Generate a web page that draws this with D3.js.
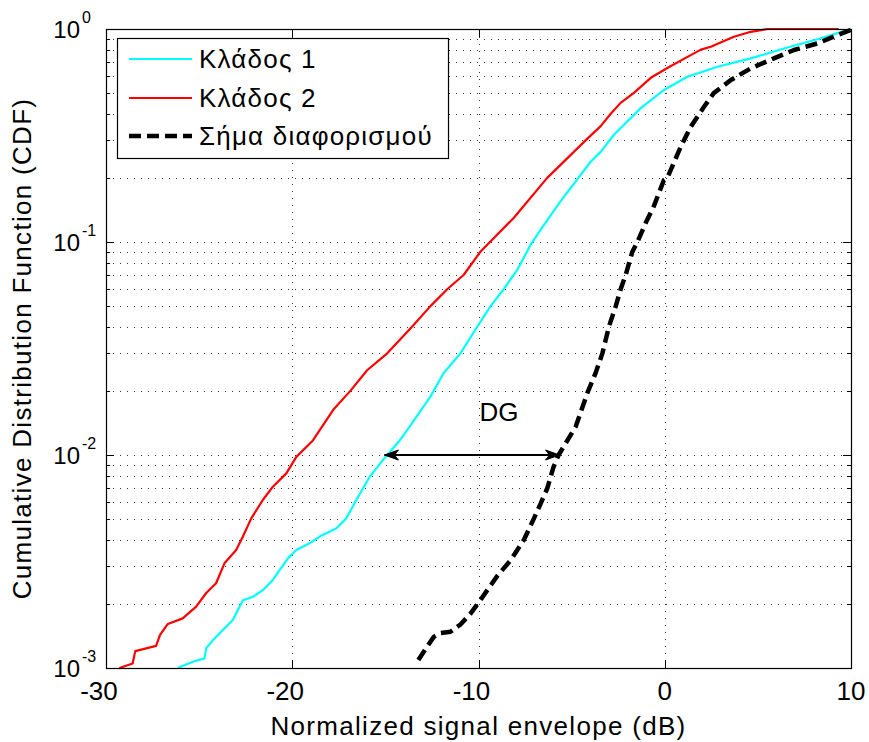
<!DOCTYPE html>
<html>
<head>
<meta charset="utf-8">
<script src="https://cdn.jsdelivr.net/npm/d3@7"></script>
<style>
  body { margin: 0; background: #fff; }
  text { font-family: "Liberation Sans", Arial, sans-serif; fill: #000; }
</style>
</head>
<body>
<div id="container"></div>
<script>
// Κλάδος 1 (cyan)
const branch1X = [-26.15, -25.34, -24.71, -24.62, -24.26, -23.82, -23.19, -22.65, -22.11, -21.58, -21.04, -20.68, -20.23, -19.78, -19.07, -18.53, -17.63, -17.1, -16.56, -15.84, -15.12, -14.23, -13.83, -12.58, -11.88, -10.97, -10.07, -9.35, -8.65, -7.92, -7.2, -6.67, -5.6, -3.98, -3.44, -2.74, -2.37, -1.29, 0, 1.22, 2.83, 4.62, 6.4, 8.2, 10];
const branch1Y = [0.001, 0.00107, 0.00111, 0.00124, 0.00135, 0.00148, 0.00168, 0.00208, 0.00216, 0.00232, 0.00259, 0.00288, 0.00327, 0.00358, 0.00385, 0.00414, 0.00453, 0.00504, 0.00615, 0.0079, 0.0095, 0.0117, 0.0131, 0.0188, 0.0242, 0.03, 0.04, 0.05, 0.06, 0.074, 0.097, 0.114, 0.155, 0.238, 0.265, 0.318, 0.343, 0.425, 0.52, 0.597, 0.665, 0.728, 0.81, 0.895, 1.0];

// Κλάδος 2 (red)
const branch2X = [-29.28, -28.57, -28.43, -27.31, -27.1, -26.68, -25.88, -25.16, -24.62, -24.09, -23.64, -23.01, -22.65, -22.2, -21.58, -21.04, -20.32, -19.78, -18.89, -17.8, -16.88, -15.98, -14.9, -13.57, -12.58, -11.68, -10.8, -9.9, -9.53, -8.1, -6.31, -4.25, -3.44, -2.9, -2.37, -1.67, -0.75, 0.14, 1.22, 1.94, 2.47, 3.71, 4.62, 5.52, 9.35];
const branch2Y = [0.001, 0.00105, 0.0012, 0.00127, 0.00143, 0.00161, 0.00171, 0.00194, 0.00225, 0.0025, 0.0031, 0.00358, 0.00414, 0.00504, 0.00615, 0.0071, 0.0082, 0.0098, 0.0117, 0.0163, 0.02, 0.025, 0.03, 0.04, 0.05, 0.06, 0.07, 0.09, 0.097, 0.13, 0.2, 0.3, 0.35, 0.4, 0.45, 0.5, 0.59, 0.656, 0.74, 0.8, 0.826, 0.92, 0.97, 1.0, 1.0];

// Σήμα διαφορισμού (black dashed)
const combinedX = [-13.23, -12.76, -12.4, -12.04, -11.5, -10.97, -10.43, -9.89, -9.0, -8.28, -7.56, -7.04, -6.67, -6.3, -5.97, -5.7, -5.23, -4.78, -4.16, -3.71, -3.35, -3.0, -2.63, -2.37, -2.1, -1.74, -1.47, -1.02, -0.59, -0.05, 0.14, 0.86, 1.4, 2.1, 2.63, 3.55, 4.62, 5.86, 6.94, 8.2, 9.28, 10];
const combinedY = [0.00109, 0.00126, 0.0014, 0.00146, 0.00148, 0.0016, 0.0018, 0.00209, 0.0027, 0.0032, 0.004, 0.005, 0.0059, 0.007, 0.0088, 0.01, 0.0117, 0.0136, 0.0195, 0.0243, 0.03, 0.04, 0.05, 0.06, 0.07, 0.09, 0.1, 0.123, 0.147, 0.195, 0.2, 0.28, 0.348, 0.43, 0.5, 0.576, 0.654, 0.728, 0.797, 0.856, 0.937, 0.99];

const seriesNames = ['Κλάδος 1', 'Κλάδος 2', 'Σήμα διαφορισμού'];
const xTicks = [-30, -20, -10, 0, 10];
const yDecades = [-3, -2, -1, 0];
const dgArrowX = [-15.05, -5.65];
const dgArrowY = 0.01;
const dgLabel = { text: 'DG', x: -8.9, y: 0.0145 };

const width = 869, height = 742;
const margin = { left: 106, right: 18, top: 29, bottom: 74 };

const svg = d3.select('#container').append('svg')
    .attr('width', width)
    .attr('height', height);

svg.append('rect').attr('width', width).attr('height', height).attr('fill', '#fff');

const x = d3.scaleLinear().domain([-30, 10]).range([margin.left, width - margin.right]);
const y = d3.scaleLog().domain([1e-3, 1]).range([height - margin.bottom, margin.top]);

const x0 = x.range()[0], x1 = x.range()[1];
const y0 = y.range()[0], y1 = y.range()[1];

// grid
const yGrid = [];
yDecades.slice(0, -1).forEach(d => {
    for (let k = 1; k <= 9; k++) yGrid.push(k * Math.pow(10, d));
});
const yMinor = yGrid.filter(v => !yDecades.some(d => Math.abs(v - Math.pow(10, d)) < 1e-12));

const grid = svg.append('g').attr('stroke', '#000').attr('stroke-width', 1)
    .attr('stroke-dasharray', '1,6').attr('opacity', 0.8);
grid.selectAll('.hg').data(yGrid.filter(v => v > 1e-3)).enter().append('line')
    .attr('x1', x0).attr('x2', x1)
    .attr('y1', d => Math.round(y(d)) + 0.5).attr('y2', d => Math.round(y(d)) + 0.5);
grid.selectAll('.vg').data(xTicks.slice(1, -1)).enter().append('line')
    .attr('y1', y0).attr('y2', y1)
    .attr('x1', d => Math.round(x(d)) + 0.5).attr('x2', d => Math.round(x(d)) + 0.5);

// ticks
const ticks = svg.append('g').attr('stroke', '#000').attr('stroke-width', 1);
xTicks.forEach(t => {
    const px = Math.round(x(t)) + 0.5;
    ticks.append('line').attr('x1', px).attr('x2', px).attr('y1', y0).attr('y2', y0 - 8);
    ticks.append('line').attr('x1', px).attr('x2', px).attr('y1', y1).attr('y2', y1 + 8);
});
yDecades.forEach(d => {
    const py = Math.round(y(Math.pow(10, d))) + 0.5;
    ticks.append('line').attr('x1', x0).attr('x2', x0 + 8).attr('y1', py).attr('y2', py);
    ticks.append('line').attr('x1', x1).attr('x2', x1 - 8).attr('y1', py).attr('y2', py);
});
yMinor.forEach(v => {
    const py = Math.round(y(v)) + 0.5;
    ticks.append('line').attr('x1', x0).attr('x2', x0 + 4).attr('y1', py).attr('y2', py);
    ticks.append('line').attr('x1', x1).attr('x2', x1 - 4).attr('y1', py).attr('y2', py);
});

// curves
svg.append('clipPath').attr('id', 'clip').append('rect')
    .attr('x', x0).attr('y', y1 - 2).attr('width', x1 - x0).attr('height', y0 - y1 + 2);

const line = d3.line().x(d => x(d[0])).y(d => y(d[1]));
const plot = svg.append('g').attr('clip-path', 'url(#clip)');

const series = [
    { xs: branch1X, ys: branch1Y, color: '#00ffff', w: 2.2, dash: null },
    { xs: branch2X, ys: branch2Y, color: '#ff0000', w: 2.2, dash: null },
    { xs: combinedX, ys: combinedY, color: '#000', w: 4.5, dash: '12,6' }
];
series.forEach(s => {
    plot.append('path')
        .datum(s.xs.map((v, i) => [v, s.ys[i]]))
        .attr('d', line)
        .attr('fill', 'none')
        .attr('stroke', s.color)
        .attr('stroke-width', s.w)
        .attr('stroke-dasharray', s.dash)
        .attr('stroke-linejoin', 'round');
});

// DG arrow
const ax0 = x(dgArrowX[0]), ax1 = x(dgArrowX[1]), ay = y(dgArrowY);
svg.append('line').attr('x1', ax0).attr('x2', ax1).attr('y1', ay).attr('y2', ay)
    .attr('stroke', '#000').attr('stroke-width', 2);
[[ax0, 1], [ax1, -1]].forEach(([px, dir]) => {
    svg.append('path')
        .attr('d', `M${px},${ay} L${px + dir * 14},${ay - 5} L${px + dir * 10},${ay} L${px + dir * 14},${ay + 5} Z`)
        .attr('fill', '#000').attr('stroke', '#000').attr('stroke-width', 1);
});
svg.append('text').attr('x', x(dgLabel.x)).attr('y', y(dgLabel.y))
    .attr('text-anchor', 'middle').attr('font-size', 26).text(dgLabel.text);

// frame
svg.append('rect').attr('x', x0 + 0.5).attr('y', y1 + 0.5)
    .attr('width', x1 - x0).attr('height', y0 - y1)
    .attr('fill', 'none').attr('stroke', '#000').attr('stroke-width', 1.2);

// x tick labels
svg.append('g').selectAll('text').data(xTicks).enter().append('text')
    .attr('x', d => x(d) + (d < 0 ? -7 : 0))
    .attr('y', y0 + 32)
    .attr('text-anchor', 'middle')
    .attr('font-size', 26)
    .text(d => d);

// y tick labels 10^n
yDecades.forEach(d => {
    const py = y(Math.pow(10, d));
    svg.append('text').attr('x', 80).attr('y', py + 9)
        .attr('text-anchor', 'end').attr('font-size', 24).text('10');
    svg.append('text').attr('x', 82).attr('y', py - 6)
        .attr('font-size', 16).text(d);
});

// axis labels
svg.append('text').attr('x', (x0 + x1) / 2).attr('y', 735)
    .attr('text-anchor', 'middle').attr('font-size', 26)
    .attr('letter-spacing', 1.3)
    .text('Normalized signal envelope (dB)');
svg.append('text').attr('transform', `translate(22,${(y0 + y1) / 2}) rotate(-90)`)
    .attr('dy', '0.35em')
    .attr('text-anchor', 'middle').attr('font-size', 26)
    .attr('letter-spacing', 1.3)
    .text('Cumulative Distribution Function (CDF)');

// legend
const legend = svg.append('g');
legend.append('rect').attr('x', 117.5).attr('y', 38.5).attr('width', 331).attr('height', 120)
    .attr('fill', '#fff').attr('stroke', '#000').attr('stroke-width', 1.2);
const legY = [59, 98, 136];
series.forEach((s, i) => {
    legend.append('line').attr('x1', 129).attr('x2', 192).attr('y1', legY[i]).attr('y2', legY[i])
        .attr('stroke', s.color).attr('stroke-width', s.w).attr('stroke-dasharray', s.dash);
    legend.append('text').attr('x', 199).attr('y', legY[i]).attr('dy', '0.35em')
        .attr('font-size', 26).attr('letter-spacing', 1.2).text(seriesNames[i]);
});
</script>
</body>
</html>
